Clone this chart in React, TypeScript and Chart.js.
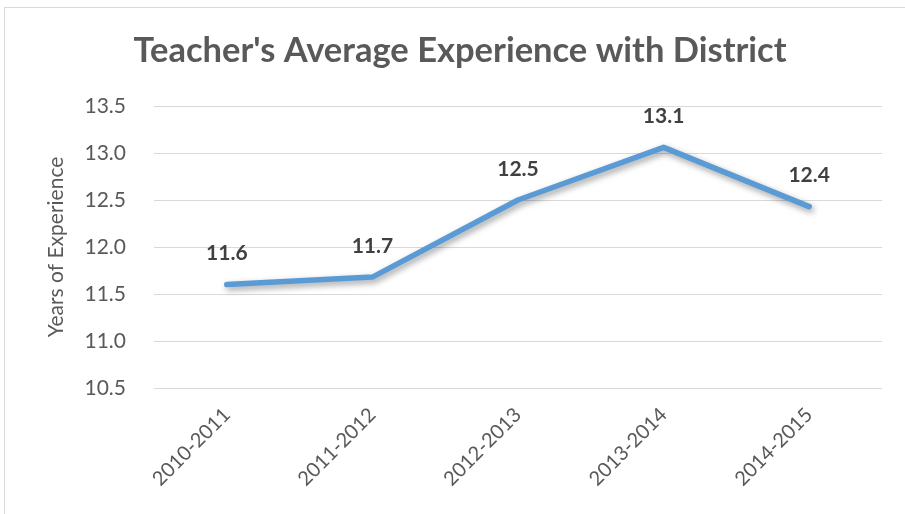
import React, { useEffect, useRef } from "react";
import { Chart, registerables } from "chart.js";
Chart.register(...registerables);

const TITLE = "Teacher's Average Experience with District";
const Y_TITLE = "Years of Experience";
const categories = ["2010-2011", "2011-2012", "2012-2013", "2013-2014", "2014-2015"];
const experience = [11.6, 11.68, 12.5, 13.06, 12.43];
const yMin = 10.5;
const yMax = 13.5;
const yStep = 0.5;

const FONT = "Lato, 'Open Sans', sans-serif";

export default function App() {
  const ref = useRef<HTMLCanvasElement>(null);
  useEffect(() => {
    if (!ref.current) return;
    const shadowPlugin = {
      id: "shadow",
      beforeDatasetDraw(chart: any) {
        const ctx = chart.ctx;
        ctx.save();
        ctx.shadowColor = "rgba(0,0,0,0.38)";
        ctx.shadowBlur = 6;
        ctx.shadowOffsetX = 2;
        ctx.shadowOffsetY = 3;
      },
      afterDatasetDraw(chart: any) {
        chart.ctx.restore();
      },
    };
    const labelPlugin = {
      id: "labels",
      afterDraw(chart: any) {
        const ctx = chart.ctx;
        ctx.save();
        ctx.fillStyle = "#595959";
        ctx.font = `bold 34.5px ${FONT}`;
        ctx.textAlign = "center";
        ctx.textBaseline = "middle";
        ctx.fillText(TITLE, 460, 51);
        const meta = chart.getDatasetMeta(0);
        ctx.fillStyle = "#404040";
        ctx.font = `bold 21px ${FONT}`;
        meta.data.forEach((pt: any, i: number) => {
          ctx.fillText(experience[i].toFixed(1), pt.x, pt.y - 31);
        });
        ctx.restore();
      },
    };
    const chart = new Chart(ref.current, {
      type: "line",
      data: {
        labels: categories,
        datasets: [
          {
            data: experience,
            borderColor: "#5B9BD5",
            borderWidth: 5.5,
            borderCapStyle: "round",
            borderJoinStyle: "round",
            pointRadius: 0,
            tension: 0,
            fill: false,
          },
        ],
      },
      options: {
        animation: false,
        responsive: false,
        layout: { padding: { top: 106, left: 0, right: 23, bottom: 0 } },
        plugins: { legend: { display: false }, tooltip: { enabled: false }, title: { display: false } },
        scales: {
          x: {
            offset: true,
            grid: { display: false },
            border: { display: false },
            ticks: {
              minRotation: 45,
              maxRotation: 45,
              padding: 7,
              color: "#595959",
              font: { family: FONT, size: 20 },
            },
            afterFit(scale: any) {
              scale.height = 126;
            },
          },
          y: {
            min: yMin,
            max: yMax,
            grid: { color: "#d9d9d9", lineWidth: 1, drawTicks: false },
            border: { display: false },
            ticks: {
              stepSize: yStep,
              padding: 28,
              color: "#595959",
              font: { family: FONT, size: 21 },
              callback: (v: any) => Number(v).toFixed(1),
            },
            title: {
              display: true,
              text: Y_TITLE,
              color: "#595959",
              font: { family: FONT, size: 21 },
              padding: { top: 44, bottom: 0 },
            },
            afterFit(scale: any) {
              scale.width = 154;
            },
          },
        },
      },
      plugins: [shadowPlugin, labelPlugin],
    });
    return () => chart.destroy();
  }, []);
  return (
    <div style={{ position: "fixed", left: 0, top: 0, width: 905, height: 514, background: "#fff", overflow: "hidden" }}>
      <div
        style={{
          position: "absolute",
          left: 4,
          top: 7,
          width: 930,
          height: 540,
          border: "1px solid #d9d9d9",
          boxSizing: "border-box",
        }}
      />
      <canvas ref={ref} width={905} height={514} style={{ position: "absolute", left: 0, top: 0 }} />
    </div>
  );
}
